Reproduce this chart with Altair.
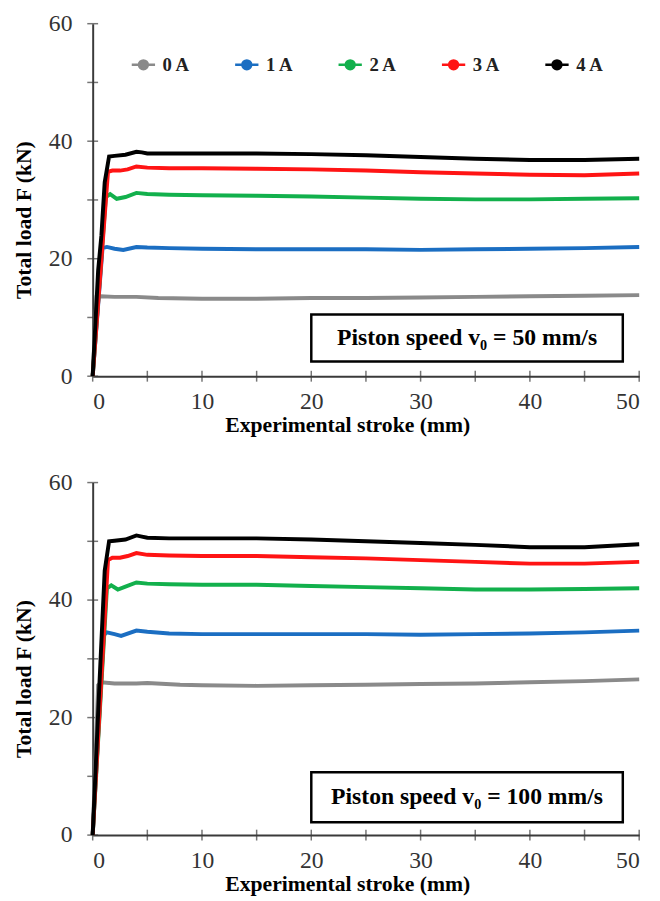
import altair as alt
import pandas as pd

series_names = ["0 A", "1 A", "2 A", "3 A", "4 A"]
series_colors = ["#8a8a8a", "#1b6ec2", "#12b04c", "#ff1414", "#000000"]

# Piston speed 50 mm/s
top_x = {
    "0 A": [0, 0.35, 0.7, 2, 4, 6, 10, 15, 20, 25, 30, 35, 40, 45, 50],
    "1 A": [0, 0.9, 1.3, 2, 2.8, 4, 5, 7, 10, 15, 20, 25, 30, 35, 40, 45, 50],
    "2 A": [0, 1.2, 1.6, 2.2, 3, 4, 5, 7, 10, 15, 20, 25, 30, 35, 40, 45, 50],
    "3 A": [0, 1.4, 1.8, 2.5, 3.2, 4, 5, 7, 10, 15, 20, 25, 30, 35, 40, 45, 50],
    "4 A": [0, 0.5, 0.8, 1.1, 1.5, 2, 3, 4, 4.5, 5, 7, 10, 15, 20, 25, 30, 35, 40, 45, 50],
}
top_y = {
    "0 A": [0, 13.5, 13.6, 13.5, 13.5, 13.3, 13.2, 13.2, 13.3, 13.3, 13.4, 13.5, 13.6, 13.7, 13.8],
    "1 A": [0, 21.8, 22.0, 21.7, 21.5, 22.0, 21.9, 21.8, 21.7, 21.6, 21.6, 21.6, 21.5, 21.6, 21.7, 21.8, 22.0],
    "2 A": [0, 30.5, 31.0, 30.2, 30.5, 31.2, 31.0, 30.9, 30.8, 30.7, 30.6, 30.4, 30.2, 30.1, 30.1, 30.2, 30.3],
    "3 A": [0, 34.8, 35.0, 35.0, 35.2, 35.7, 35.5, 35.4, 35.4, 35.3, 35.2, 35.0, 34.7, 34.5, 34.3, 34.2, 34.5],
    "4 A": [0, 18, 24, 33, 37.4, 37.5, 37.7, 38.2, 38.1, 37.9, 37.9, 37.9, 37.9, 37.8, 37.6, 37.3, 37.0, 36.8, 36.8, 37.0],
}

# Piston speed 100 mm/s
bot_x = {
    "0 A": [0, 0.5, 0.8, 2, 4, 5, 8, 10, 15, 20, 25, 30, 35, 40, 45, 50],
    "1 A": [0, 1.0, 1.3, 2, 2.6, 4, 5, 7, 10, 15, 20, 25, 30, 35, 40, 45, 50],
    "2 A": [0, 1.3, 1.7, 2.3, 3, 4, 5, 7, 10, 15, 20, 25, 30, 35, 40, 45, 50],
    "3 A": [0, 1.4, 1.8, 2.5, 3.2, 4, 5, 7, 10, 15, 20, 25, 30, 35, 40, 45, 50],
    "4 A": [0, 0.6, 1.1, 1.5, 2, 3, 4, 4.5, 5, 7, 10, 15, 20, 25, 30, 35, 40, 45, 50],
}
bot_y = {
    "0 A": [0, 25.5, 26.0, 25.8, 25.8, 25.9, 25.6, 25.5, 25.4, 25.5, 25.6, 25.7, 25.8, 26.0, 26.2, 26.5],
    "1 A": [0, 34.0, 34.5, 34.2, 33.9, 34.8, 34.6, 34.3, 34.2, 34.2, 34.2, 34.2, 34.1, 34.2, 34.3, 34.5, 34.8],
    "2 A": [0, 42.0, 42.5, 41.8, 42.3, 43.0, 42.8, 42.7, 42.6, 42.6, 42.4, 42.2, 42.0, 41.8, 41.8, 41.9, 42.0],
    "3 A": [0, 46.8, 47.2, 47.2, 47.5, 48.0, 47.7, 47.6, 47.5, 47.5, 47.3, 47.1, 46.8, 46.5, 46.2, 46.2, 46.5],
    "4 A": [0, 25, 45, 50.0, 50.1, 50.3, 51.0, 50.8, 50.6, 50.5, 50.5, 50.5, 50.3, 50.0, 49.7, 49.4, 49.0, 49.0, 49.5],
}

box_labels = ["Piston speed v\u2080 = 50 mm/s", "Piston speed v\u2080 = 100 mm/s"]
box_x = [20, 48.5]
box_y_top = [10.5, 10.7]
box_y_bot = [2.5, 2.2]

x_ticks = [0, 5, 10, 15, 20, 25, 30, 35, 40, 45, 50]
y_ticks = [0, 10, 20, 30, 40, 50, 60]

FONT = "Liberation Serif"
AXIS_COLOR = "#3a3a3a"
W, H = 555, 358

legend_symbol = "M-1,0H1M0.38,0A0.38,0.38,0,1,1,-0.38,0A0.38,0.38,0,1,1,0.38,0Z"


def long_df(xs, ys):
    rows = []
    for s in series_names:
        for i, (a, b) in enumerate(zip(xs[s], ys[s])):
            rows.append({"series": s, "x": a, "y": b, "order": i})
    return pd.DataFrame(rows)


def panel(xs, ys, idx, show_legend):
    df = long_df(xs, ys)
    xenc = alt.X(
        "x:Q",
        scale=alt.Scale(domain=[0, 50], nice=False),
        axis=alt.Axis(
            values=x_ticks,
            labelExpr="datum.value % 10 == 0 ? datum.label : ''",
            title="Experimental stroke (mm)",
            titleX=W / 2 - 19,
        ),
    )
    yenc = alt.Y(
        "y:Q",
        scale=alt.Scale(domain=[0, 60], nice=False),
        axis=alt.Axis(
            values=y_ticks,
            labelExpr="datum.value % 20 == 0 ? datum.label : ''",
            title="Total load F (kN)",
            titleY=H / 2 + 20,
        ),
    )
    if show_legend:
        leg = alt.Legend(
            title=None,
            orient="none",
            legendX=38,
            legendY=28,
            direction="horizontal",
            columns=5,
            columnPadding=40,
            symbolType=legend_symbol,
            symbolSize=560,
            symbolStrokeWidth=2.5,
            labelFont=FONT,
            labelFontSize=19,
            labelFontWeight="bold",
            labelColor="#222222",
            labelOffset=6,
        )
    else:
        leg = None
    cscale = alt.Scale(domain=series_names, range=series_colors)
    lines = alt.Chart(df).mark_line(strokeWidth=4, interpolate="linear").encode(
        x=xenc,
        y=yenc,
        order="order:Q",
        color=alt.Color("series:N", scale=cscale, legend=leg),
    )
    pts = alt.Chart(df).mark_point(filled=True, size=0, opacity=1).encode(
        x="x:Q",
        y="y:Q",
        color=alt.Color("series:N", scale=cscale, legend=leg),
    )
    # tick marks crossing the axis lines
    xt = alt.Chart(pd.DataFrame({"t": x_ticks, "z": [0] * len(x_ticks)})).mark_tick(
        orient="vertical", size=11, thickness=1.5, color=AXIS_COLOR
    ).encode(x="t:Q", y="z:Q")
    yt = alt.Chart(pd.DataFrame({"t": y_ticks, "z": [0] * len(y_ticks)})).mark_tick(
        orient="horizontal", size=11, thickness=1.5, color=AXIS_COLOR
    ).encode(y="t:Q", x="z:Q")
    bdf = pd.DataFrame({
        "x1": [box_x[0]], "x2": [box_x[1]],
        "y1": [box_y_bot[idx]], "y2": [box_y_top[idx]],
        "xm": [(box_x[0] + box_x[1]) / 2], "ym": [(box_y_bot[idx] + box_y_top[idx]) / 2],
        "label": [box_labels[idx]],
    })
    rect = alt.Chart(bdf).mark_rect(fill="white", stroke="black", strokeWidth=2.5).encode(
        x="x1:Q", x2="x2:Q", y="y1:Q", y2="y2:Q"
    )
    txt = alt.Chart(bdf).mark_text(font=FONT, fontSize=24, fontWeight="bold", color="black").encode(
        x="xm:Q", y="ym:Q", text="label:N"
    )
    return alt.layer(xt, yt, lines, pts, rect, txt).properties(width=W, height=H)


top = panel(top_x, top_y, 0, True)
bot = panel(bot_x, bot_y, 1, False)

chart = alt.vconcat(top, bot, spacing=36).resolve_legend(
    color="independent"
).properties(
    background="white",
    padding={"left": 5, "top": -3, "right": 5, "bottom": 0},
).configure_view(
    stroke=None
).configure_axis(
    domainColor=AXIS_COLOR,
    domainWidth=2,
    ticks=False,
    grid=False,
    labelFont=FONT,
    labelFontSize=24,
    labelColor="#333333",
    titleFont=FONT,
    titleFontSize=22,
    titleFontWeight="bold",
    titleColor="black",
).configure_axisY(
    labelPadding=21,
    titlePadding=13,
).configure_axisX(
    labelPadding=14,
    titlePadding=1,
)

chart.save("out.html", embed_options={"renderer": "svg", "actions": False})
